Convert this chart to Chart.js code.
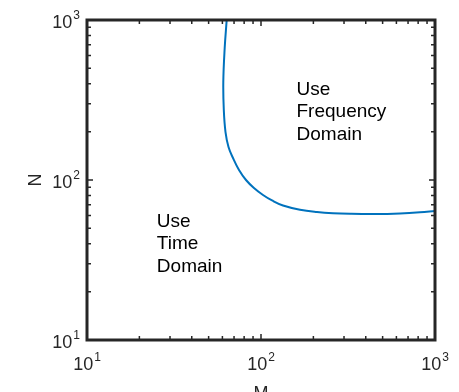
<!DOCTYPE html>
<html>
<head>
<meta charset="utf-8">
<script src="https://cdn.jsdelivr.net/npm/chart.js@4"></script>
<style>
  html, body { margin: 0; padding: 0; background: #fff; }
  #wrap { width: 459px; height: 392px; }
</style>
</head>
<body>
<div id="wrap"><canvas id="chart"></canvas></div>
<script>
// Boundary curve (M, N)
const mVals = [63.5, 61.85, 60.72, 61.13, 62.52, 65.05, 69.03, 74.75, 82.0, 91.1, 102.7, 115.7, 133.8, 167.6, 209.8, 259.3, 324.7, 452.1, 629.3, 820, 1000];
const nVals = [1000, 668, 409.8, 273.8, 199.5, 160.8, 137.2, 115.5, 100, 89.1, 80.6, 74.5, 69.3, 65.2, 63.1, 62.0, 61.5, 61.3, 61.8, 62.8, 64.0];

// axis ticks
const tickVals = [10, 100, 1000];
const tickBase = ['10', '10', '10'];
const tickExp = ['1', '2', '3'];
const minorVals = [20, 30, 40, 50, 60, 70, 80, 90, 200, 300, 400, 500, 600, 700, 800, 900];

// region labels (left edge M, first baseline N)
const notes = [
    { m: 25.2, n: 51, lines: ['Use', 'Time', 'Domain'] },
    { m: 160, n: 340, lines: ['Use', 'Frequency', 'Domain'] }
];

const axisColor = '#262626';
const fontFamily = "'Liberation Sans', Arial, sans-serif";

const points = mVals.map((m, i) => ({ x: m, y: nVals[i] }));

// box, inside tick marks, power-of-ten labels and region text
const boxPlugin = {
    id: 'box',
    afterDraw(chart) {
        const ctx = chart.ctx;
        const a = chart.chartArea;
        const xs = chart.scales.x, ys = chart.scales.y;
        ctx.save();
        ctx.strokeStyle = axisColor;
        ctx.lineWidth = 1.5;
        const tick = (v, len) => {
            const px = xs.getPixelForValue(v);
            const py = ys.getPixelForValue(v);
            ctx.beginPath();
            ctx.moveTo(px, a.bottom); ctx.lineTo(px, a.bottom - len);
            ctx.moveTo(px, a.top); ctx.lineTo(px, a.top + len);
            ctx.moveTo(a.left, py); ctx.lineTo(a.left + len, py);
            ctx.moveTo(a.right, py); ctx.lineTo(a.right - len, py);
            ctx.stroke();
        };
        minorVals.forEach(v => tick(v, 4));
        tickVals.forEach(v => tick(v, 6));
        ctx.lineWidth = 3;
        ctx.strokeRect(a.left, a.top, a.right - a.left, a.bottom - a.top);

        // tick labels 10^k
        ctx.fillStyle = axisColor;
        ctx.textBaseline = 'alphabetic';
        ctx.textAlign = 'left';
        const baseFont = '18px ' + fontFamily, expFont = '12px ' + fontFamily;
        tickVals.forEach((v, i) => {
            ctx.font = baseFont;
            const wb = ctx.measureText(tickBase[i]).width;
            ctx.font = expFont;
            const we = ctx.measureText(tickExp[i]).width;
            const w = wb + we + 1;
            // x axis
            let x0 = xs.getPixelForValue(v) - w / 2;
            let yb = a.bottom + 30;
            ctx.font = baseFont; ctx.fillText(tickBase[i], x0, yb);
            ctx.font = expFont; ctx.fillText(tickExp[i], x0 + wb + 1, yb - 9);
            // y axis
            x0 = a.left - 7 - w;
            yb = ys.getPixelForValue(v) + 8;
            ctx.font = baseFont; ctx.fillText(tickBase[i], x0, yb);
            ctx.font = expFont; ctx.fillText(tickExp[i], x0 + wb + 1, yb - 9);
        });

        ctx.fillStyle = '#000';
        ctx.font = '19px ' + fontFamily;
        notes.forEach(nt => {
            const x = xs.getPixelForValue(nt.m);
            const y = ys.getPixelForValue(nt.n);
            nt.lines.forEach((t, i) => ctx.fillText(t, x, y + i * 22.5));
        });
        ctx.restore();
    }
};

new Chart(document.getElementById('chart'), {
    type: 'scatter',
    data: {
        datasets: [{
            data: points,
            showLine: true,
            borderColor: '#0072BD',
            borderWidth: 2,
            pointRadius: 0,
            tension: 0.4,
            fill: false
        }]
    },
    options: {
        responsive: true,
        maintainAspectRatio: false,
        animation: false,
        layout: { padding: { top: 20, right: 24, left: 0, bottom: 0 } },
        plugins: { legend: { display: false }, tooltip: { enabled: false } },
        scales: {
            x: {
                type: 'logarithmic',
                min: 10,
                max: 1000,
                afterBuildTicks: (s) => { s.ticks = tickVals.map(v => ({ value: v })); },
                afterFit: (s) => { s.height = 52; },
                grid: { display: false, drawTicks: false },
                border: { display: false },
                ticks: { display: false },
                title: {
                    display: true,
                    text: 'M',
                    color: axisColor,
                    font: { family: fontFamily, size: 18 },
                    padding: { top: 0, bottom: -13 }
                }
            },
            y: {
                type: 'logarithmic',
                min: 10,
                max: 1000,
                afterBuildTicks: (s) => { s.ticks = tickVals.map(v => ({ value: v })); },
                afterFit: (s) => { s.width = 87; },
                grid: { display: false, drawTicks: false },
                border: { display: false },
                ticks: { display: false },
                title: {
                    display: true,
                    text: 'N',
                    color: axisColor,
                    font: { family: fontFamily, size: 18 },
                    padding: { top: 25, bottom: 0 }
                }
            }
        }
    },
    plugins: [boxPlugin]
});
</script>
</body>
</html>
